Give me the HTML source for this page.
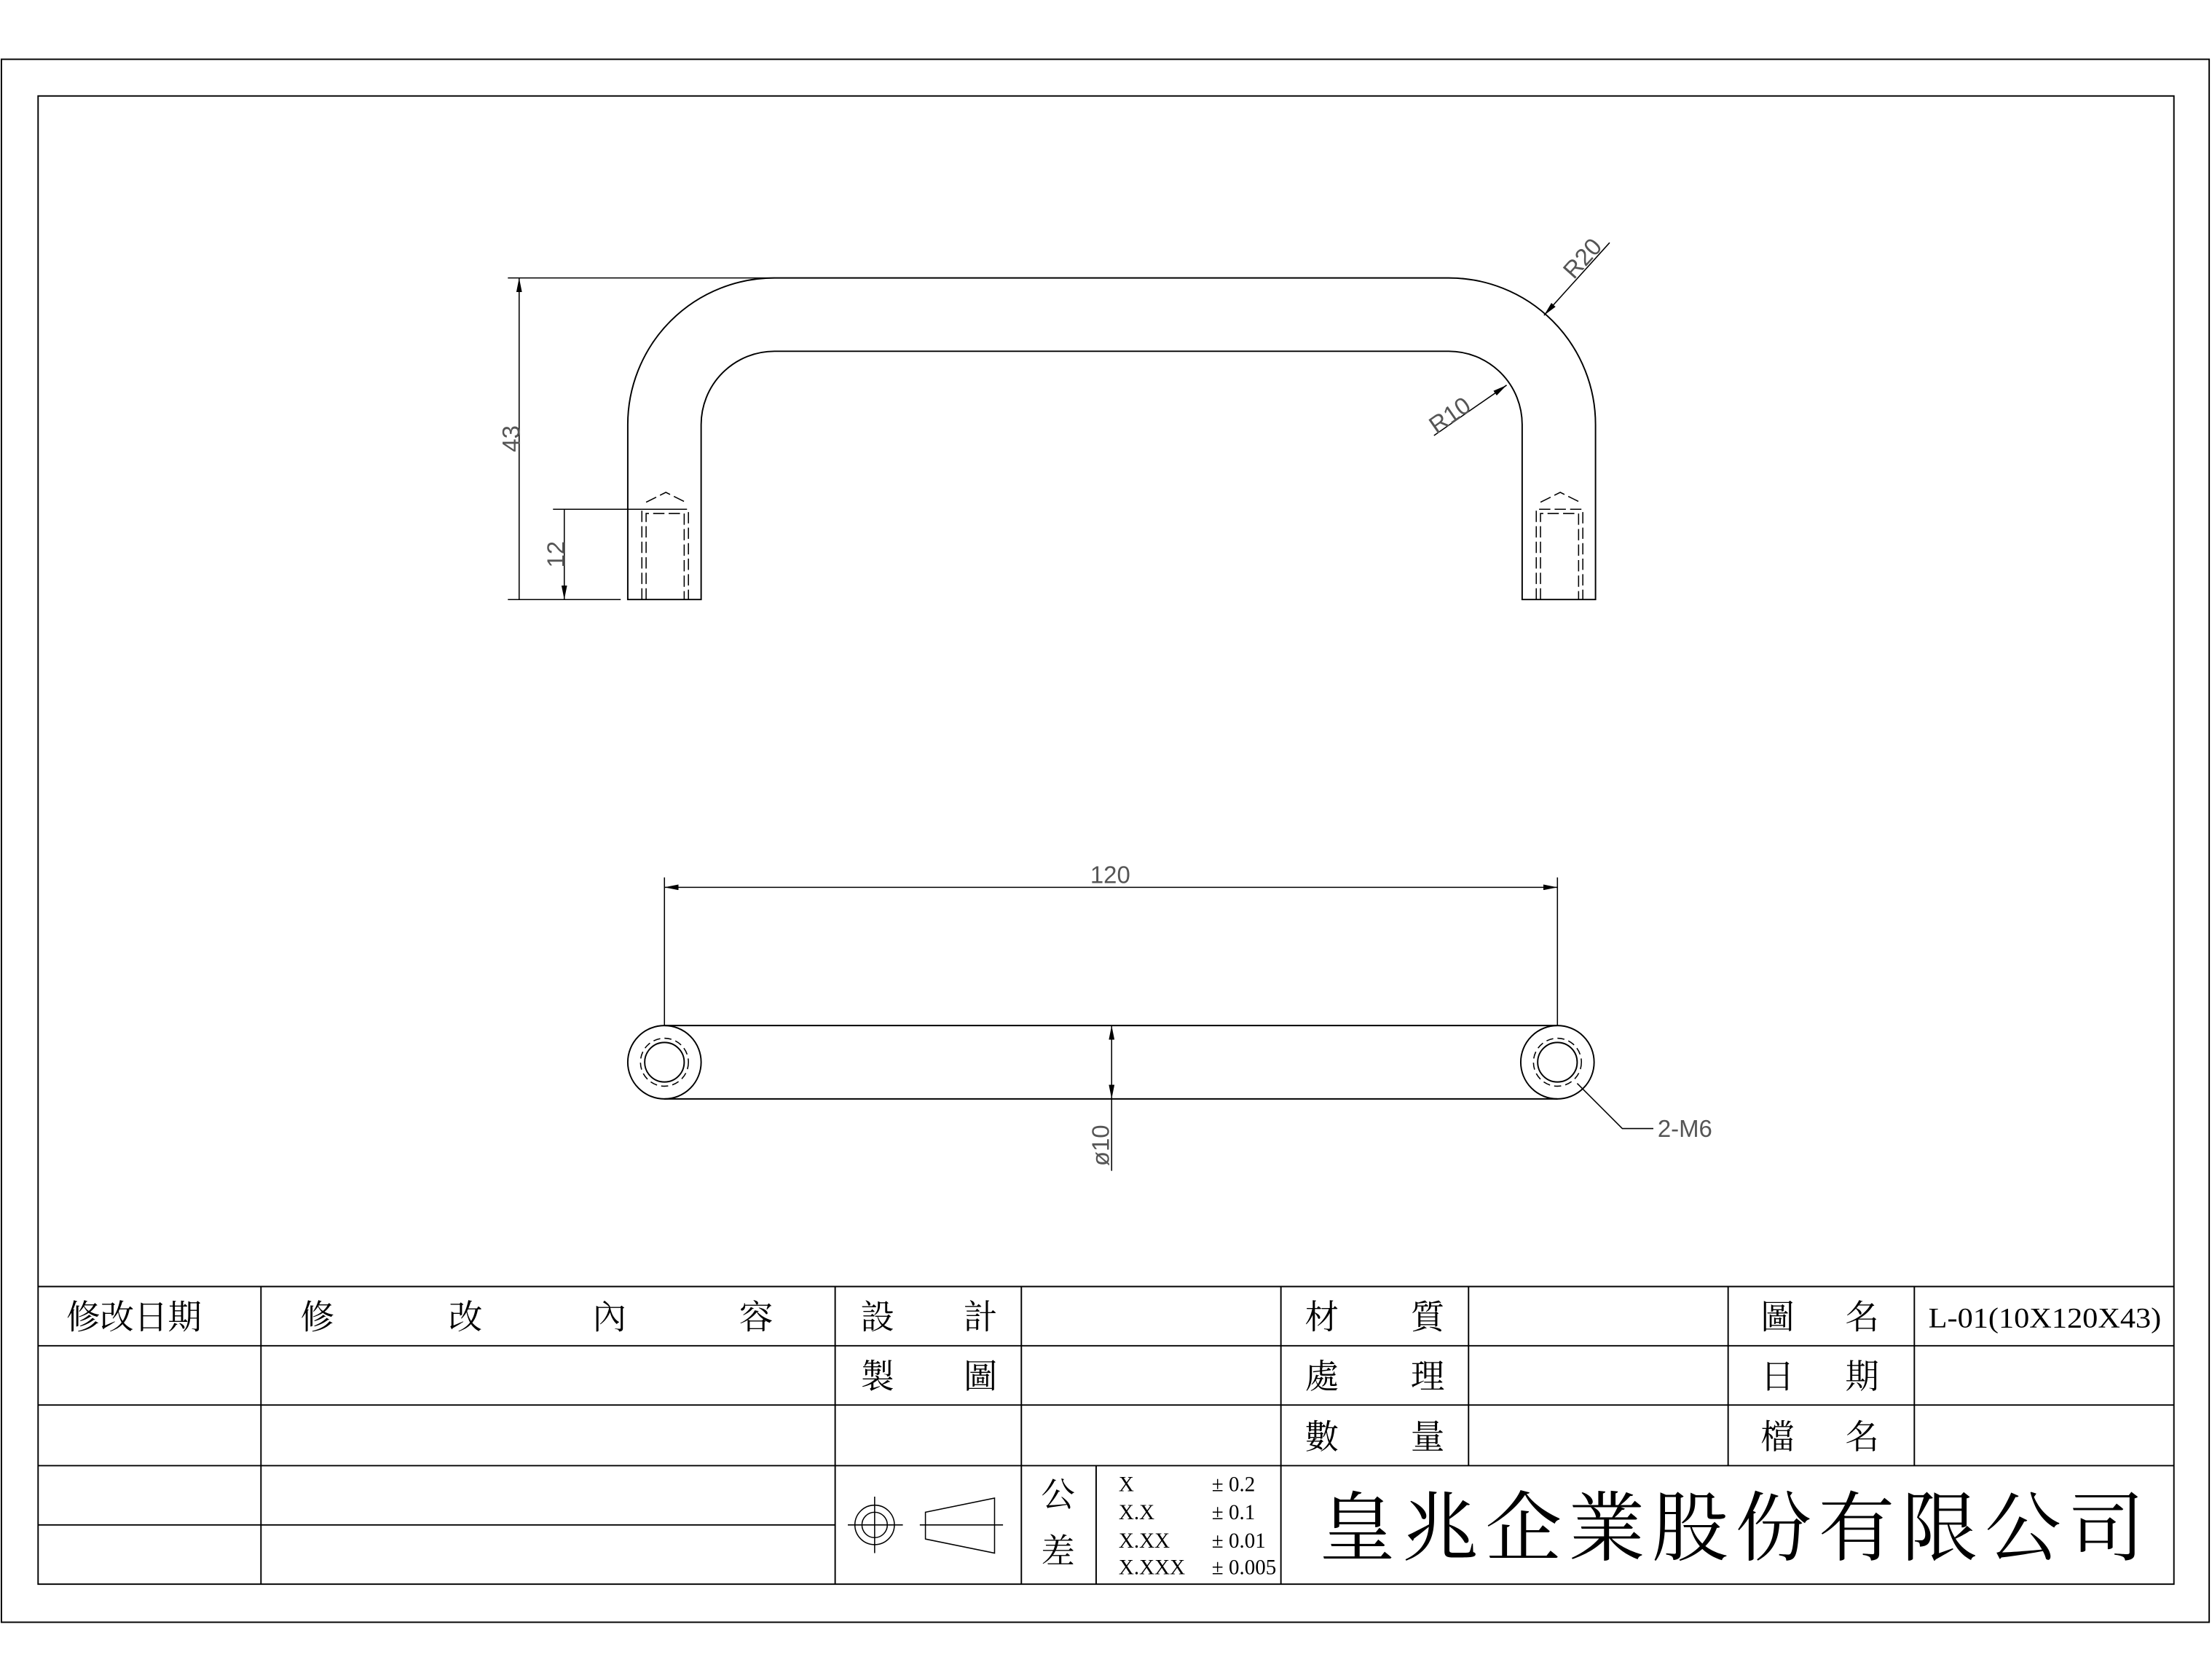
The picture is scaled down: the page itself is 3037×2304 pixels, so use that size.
<!DOCTYPE html>
<html><head><meta charset="utf-8"><style>
html,body{margin:0;padding:0;background:#fff}
svg{display:block}
.t{font-family:"Liberation Sans","Noto Sans CJK TC",sans-serif;fill:#555}
.c{font-family:"Liberation Serif","Noto Serif CJK SC","Noto Sans CJK TC",serif;fill:#000}
</style></head><body>
<svg width="3037" height="2304" viewBox="0 0 1568 1189.5" xmlns="http://www.w3.org/2000/svg">
<defs>
<marker id="a" viewBox="0 0 10 4" refX="10" refY="2" markerWidth="10" markerHeight="4" markerUnits="userSpaceOnUse" orient="auto-start-reverse"><path d="M0,0L10,2L0,4Z" fill="#000"/></marker>
</defs>
<g fill="none" stroke="#000" stroke-width="1">
<rect x="1" y="42" width="1565" height="1108"/>
<rect x="27" y="68" width="1514" height="1055"/>
<!-- top view -->
<path d="M445,425V301A104,104 0 0 1 549,197H1027A104,104 0 0 1 1131,301V425H1079V301A52,52 0 0 0 1027,249H549A52,52 0 0 0 497,301V425Z"/>
<g stroke-dasharray="8,3" stroke-width="0.8">
<path d="M455,425V361H488V425M458,425V364H485V425"/>
<path d="M1089,425V361H1122V425M1092,425V364H1119V425"/>
<path d="M458,356L472,349L486,356M1092,356L1106,349L1120,356"/>
</g>
<path d="M360,197H549M360,425H440M392,361H485" stroke-width="0.8"/>
<path d="M368,197V425M400,361V425" stroke-width="0.8" marker-start="url(#a)" marker-end="url(#a)"/>
<path d="M1141,172L1094.5,223.5" stroke-width="0.8" marker-end="url(#a)"/>
<path d="M1016.5,308.7L1068,273" stroke-width="0.8" marker-end="url(#a)"/>
<!-- bottom view -->
<path d="M471,727H1104M471,779H1104"/>
<circle cx="471" cy="753" r="26"/><circle cx="1104" cy="753" r="26"/>
<circle cx="471" cy="753" r="14"/><circle cx="1104" cy="753" r="14"/>
<circle cx="471" cy="753" r="17" stroke-dasharray="5,3" stroke-width="0.8"/><circle cx="1104" cy="753" r="17" stroke-dasharray="5,3" stroke-width="0.8"/>
<path d="M471,622V727M1104,622V727" stroke-width="0.8"/>
<path d="M471,629H1104" stroke-width="0.8" marker-start="url(#a)" marker-end="url(#a)"/>
<path d="M788,779V830" stroke-width="0.8"/>
<path d="M788,727V779" stroke-width="0.8" marker-start="url(#a)" marker-end="url(#a)"/>
<path d="M1118,768L1150,800H1172" stroke-width="0.8"/>
<!-- title block -->
<path d="M27,912H1541M27,954H1541M27,996H1541M27,1039H1541M27,1081H592"/>
<path d="M185,912V1123M592,912V1123M724,912V1123M908,912V1123M777,1039V1123M1041,912V1039M1225,912V1039M1357,912V1039"/>
<circle cx="620" cy="1081" r="14" stroke-width="0.8"/><circle cx="620" cy="1081" r="9" stroke-width="0.8"/>
<path d="M601,1081H640M620,1061V1101M652,1081H711M656,1072L705,1062V1101L656,1091Z" stroke-width="0.8"/>
</g>
<!-- dim texts -->
<text class="t" font-size="17" transform="translate(368,311) rotate(-90)" text-anchor="middle">43</text>
<text class="t" font-size="17" transform="translate(400,393) rotate(-90)" text-anchor="middle">12</text>
<text class="t" font-size="17" transform="translate(1126,187) rotate(-48)" text-anchor="middle">R20</text>
<text class="t" font-size="17" transform="translate(1031,299) rotate(-35)" text-anchor="middle">R10</text>
<text class="t" font-size="17" x="787" y="626" text-anchor="middle">120</text>
<text class="t" font-size="17" transform="translate(786,812) rotate(-90)" text-anchor="middle">ø10</text>
<text class="t" font-size="17" x="1175" y="806">2-M6</text>
<!-- title texts -->
<g class="c" font-size="24">
<text x="47" y="942">修改日期</text>
<text x="213" y="942">修</text><text x="318" y="942">改</text><text x="420" y="942">內</text><text x="524" y="942">容</text>
<text x="610" y="942">設</text><text x="683" y="942">計</text>
<text x="610" y="984">製</text><text x="683" y="984">圖</text>
<text x="925" y="942">材</text><text x="1000" y="942">質</text>
<text x="925" y="984">處</text><text x="1000" y="984">理</text>
<text x="925" y="1027">數</text><text x="1000" y="1027">量</text>
<text x="1248" y="942">圖</text><text x="1308" y="942">名</text>
<text x="1248" y="984">日</text><text x="1308" y="984">期</text>
<text x="1248" y="1027">檔</text><text x="1308" y="1027">名</text>
<text x="738" y="1068">公</text><text x="738" y="1108">差</text>
</g>
<text class="c" font-size="20" x="1367" y="941" textLength="165" lengthAdjust="spacingAndGlyphs">L-01(10X120X43)</text>
<g class="c" font-size="15">
<text x="793" y="1057">X</text><text x="793" y="1077">X.X</text><text x="793" y="1097">X.XX</text><text x="793" y="1116">X.XXX</text>
<text x="859" y="1057">± 0.2</text><text x="859" y="1077">± 0.1</text><text x="859" y="1097">± 0.01</text><text x="859" y="1116">± 0.005</text>
</g>
<text class="c" font-size="54" x="935" y="1102" textLength="585" lengthAdjust="spacing">皇兆企業股份有限公司</text>
</svg>
</body></html>
